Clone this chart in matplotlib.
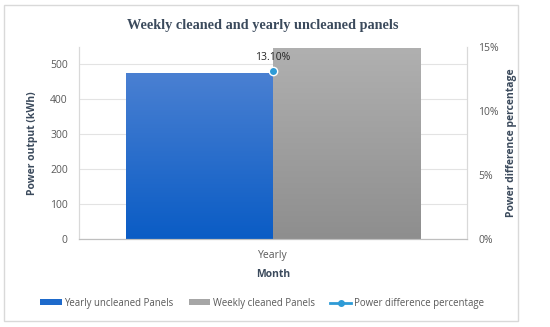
import numpy as np
import matplotlib.pyplot as plt
from matplotlib.patches import Rectangle, Patch
from matplotlib.lines import Line2D
from matplotlib.ticker import PercentFormatter

# data
categories = ["Yearly"]
yearly_uncleaned = [474]
weekly_cleaned = [546]
power_diff_pct = [13.10]

tick_font = "Open Sans"
label_col = "#3b4a5c"
tick_col = "#595959"

fig = plt.figure(figsize=(5.5, 3.27), dpi=100)
fig.patches.append(Rectangle((0.008, 0.018), 0.934, 0.966, transform=fig.transFigure,
                             fill=False, edgecolor="#d9d9d9", linewidth=1))

ax = fig.add_axes([0.1436, 0.2691, 0.7054, 0.5872])
ax2 = ax.twinx()

x = np.arange(len(categories))
w = 0.379


def gradient_bar(axis, xc, height, c_top, c_bot):
    grad = np.linspace(0, 1, 256).reshape(-1, 1)
    top = np.array(plt.matplotlib.colors.to_rgb(c_top))
    bot = np.array(plt.matplotlib.colors.to_rgb(c_bot))
    img = top + (bot - top) * grad[..., None]
    axis.imshow(img, extent=(xc - w / 2, xc + w / 2, 0, height), aspect="auto",
                origin="upper", zorder=2)


for i in range(len(categories)):
    gradient_bar(ax, x[i] - w / 2, yearly_uncleaned[i], "#4a80d2", "#0a5cc5")
    gradient_bar(ax, x[i] + w / 2, weekly_cleaned[i], "#b0b0b0", "#8e8e8e")

ax.set_xlim(-0.5, 0.5)
ax.set_ylim(0, 550)
ax.set_yticks([0, 100, 200, 300, 400, 500])
ax.yaxis.grid(True, color="#e3e3e3", linewidth=0.8)
ax.set_axisbelow(True)
ax.set_xticks(x)
ax.set_xticklabels(categories)

ax2.plot(x, power_diff_pct, color="#2e9bd6", marker="o", markersize=6,
         markeredgecolor="white", markeredgewidth=1, zorder=5)
for xi, v in zip(x, power_diff_pct):
    ax2.annotate(f"{v:.2f}%", (xi, v), xytext=(0, 6), textcoords="offset points",
                 ha="center", va="bottom", fontsize=7.5, family=tick_font, color="#262626")
ax2.set_ylim(0, 15)
ax2.set_yticks([0, 5, 10, 15])
ax2.yaxis.set_major_formatter(PercentFormatter(decimals=0))

for a in (ax, ax2):
    a.spines["top"].set_visible(False)
    a.spines["left"].set_color("#d9d9d9")
    a.spines["right"].set_color("#d9d9d9")
    a.spines["bottom"].set_color("#bfbfbf")
    a.tick_params(length=0, labelsize=7.5, labelcolor=tick_col, pad=8)
    for t in a.get_yticklabels() + a.get_xticklabels():
        t.set_family(tick_font)

ax.set_ylabel("Power output (kWh)", fontsize=7.5, fontweight="bold", color=label_col,
              family=tick_font, labelpad=9)
ax2.set_ylabel("Power difference percentage", fontsize=7.5, fontweight="bold",
               color=label_col, family=tick_font, labelpad=5)
ax.set_xlabel("Month", fontsize=7.5, fontweight="bold", color=label_col,
              family=tick_font, labelpad=6)

fig.text(0.477, 0.922, "Weekly cleaned and yearly uncleaned panels", ha="center",
         va="center", fontsize=10.3, fontweight="bold", family="Liberation Serif",
         color=label_col)

handles = [Patch(facecolor="#1e6acb"), Patch(facecolor="#a6a6a6"),
           Line2D([0], [0], color="#2e9bd6", marker="o", markersize=4, linewidth=2)]
labels = ["Yearly uncleaned Panels", "Weekly cleaned Panels", "Power difference percentage"]
leg = fig.legend(handles, labels, loc="center", bbox_to_anchor=(0.477, 0.073), ncol=3,
                 frameon=False, handlelength=2.2, handleheight=0.5,
                 handletextpad=0.3, columnspacing=1.6, labelcolor=tick_col,
                 prop={"family": tick_font, "size": 6.9})

fig.savefig("out.png", dpi=100)
